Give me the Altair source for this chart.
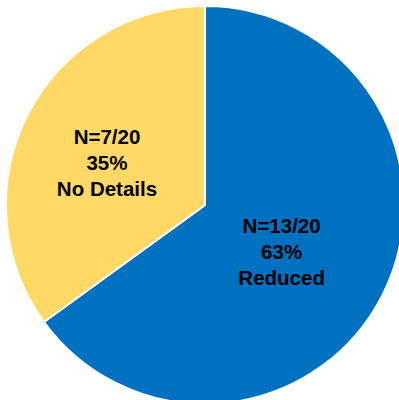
import altair as alt
import pandas as pd

categories = ["Reduced", "No Details"]
counts = [13, 7]
totals = [20, 20]
pct_labels = ["63%", "35%"]
colors = ["#0070C0", "#FFD966"]

df = pd.DataFrame({
    "category": categories,
    "value": counts,
    "idx": list(range(len(categories))),
    "label": [f"N={c}/{t}\n{p}\n{cat}" for c, t, p, cat in zip(counts, totals, pct_labels, categories)],
})

CX, CY, R = 205, 205, 199

base = alt.Chart(df)

pie = base.mark_arc(radius=R, stroke="white", strokeWidth=2).encode(
    theta=alt.Theta("value:Q", stack=True),
    order=alt.Order("idx:Q"),
    color=alt.Color("category:N", scale=alt.Scale(domain=categories, range=colors), legend=None),
    x=alt.value(CX),
    y=alt.value(CY),
)

text_base = base.transform_joinaggregate(
    total="sum(value)"
).transform_window(
    cum="sum(value)", sort=[alt.SortField("idx")]
).transform_calculate(
    mid="(datum.cum - datum.value/2) / datum.total * 2 * PI"
)

def label_layer(cat, r):
    return text_base.transform_filter(alt.datum.category == cat).mark_text(
        radius=r, font="Liberation Sans", fontWeight="bold", fontSize=20.5,
        lineBreak="\n", lineHeight=26, align="center", baseline="middle", color="black",
        dy=-17
    ).encode(
        theta=alt.Theta("mid:Q", scale=None),
        text="label:N",
        x=alt.value(CX),
        y=alt.value(CY),
    )

chart = alt.layer(pie, label_layer("Reduced", 86), label_layer("No Details", 110)).properties(
    width=399, height=400, padding=0, autosize=alt.AutoSizeParams(type="none")
).configure_view(stroke=None)

chart.save("out.html", embed_options={"renderer": "svg", "actions": False})
